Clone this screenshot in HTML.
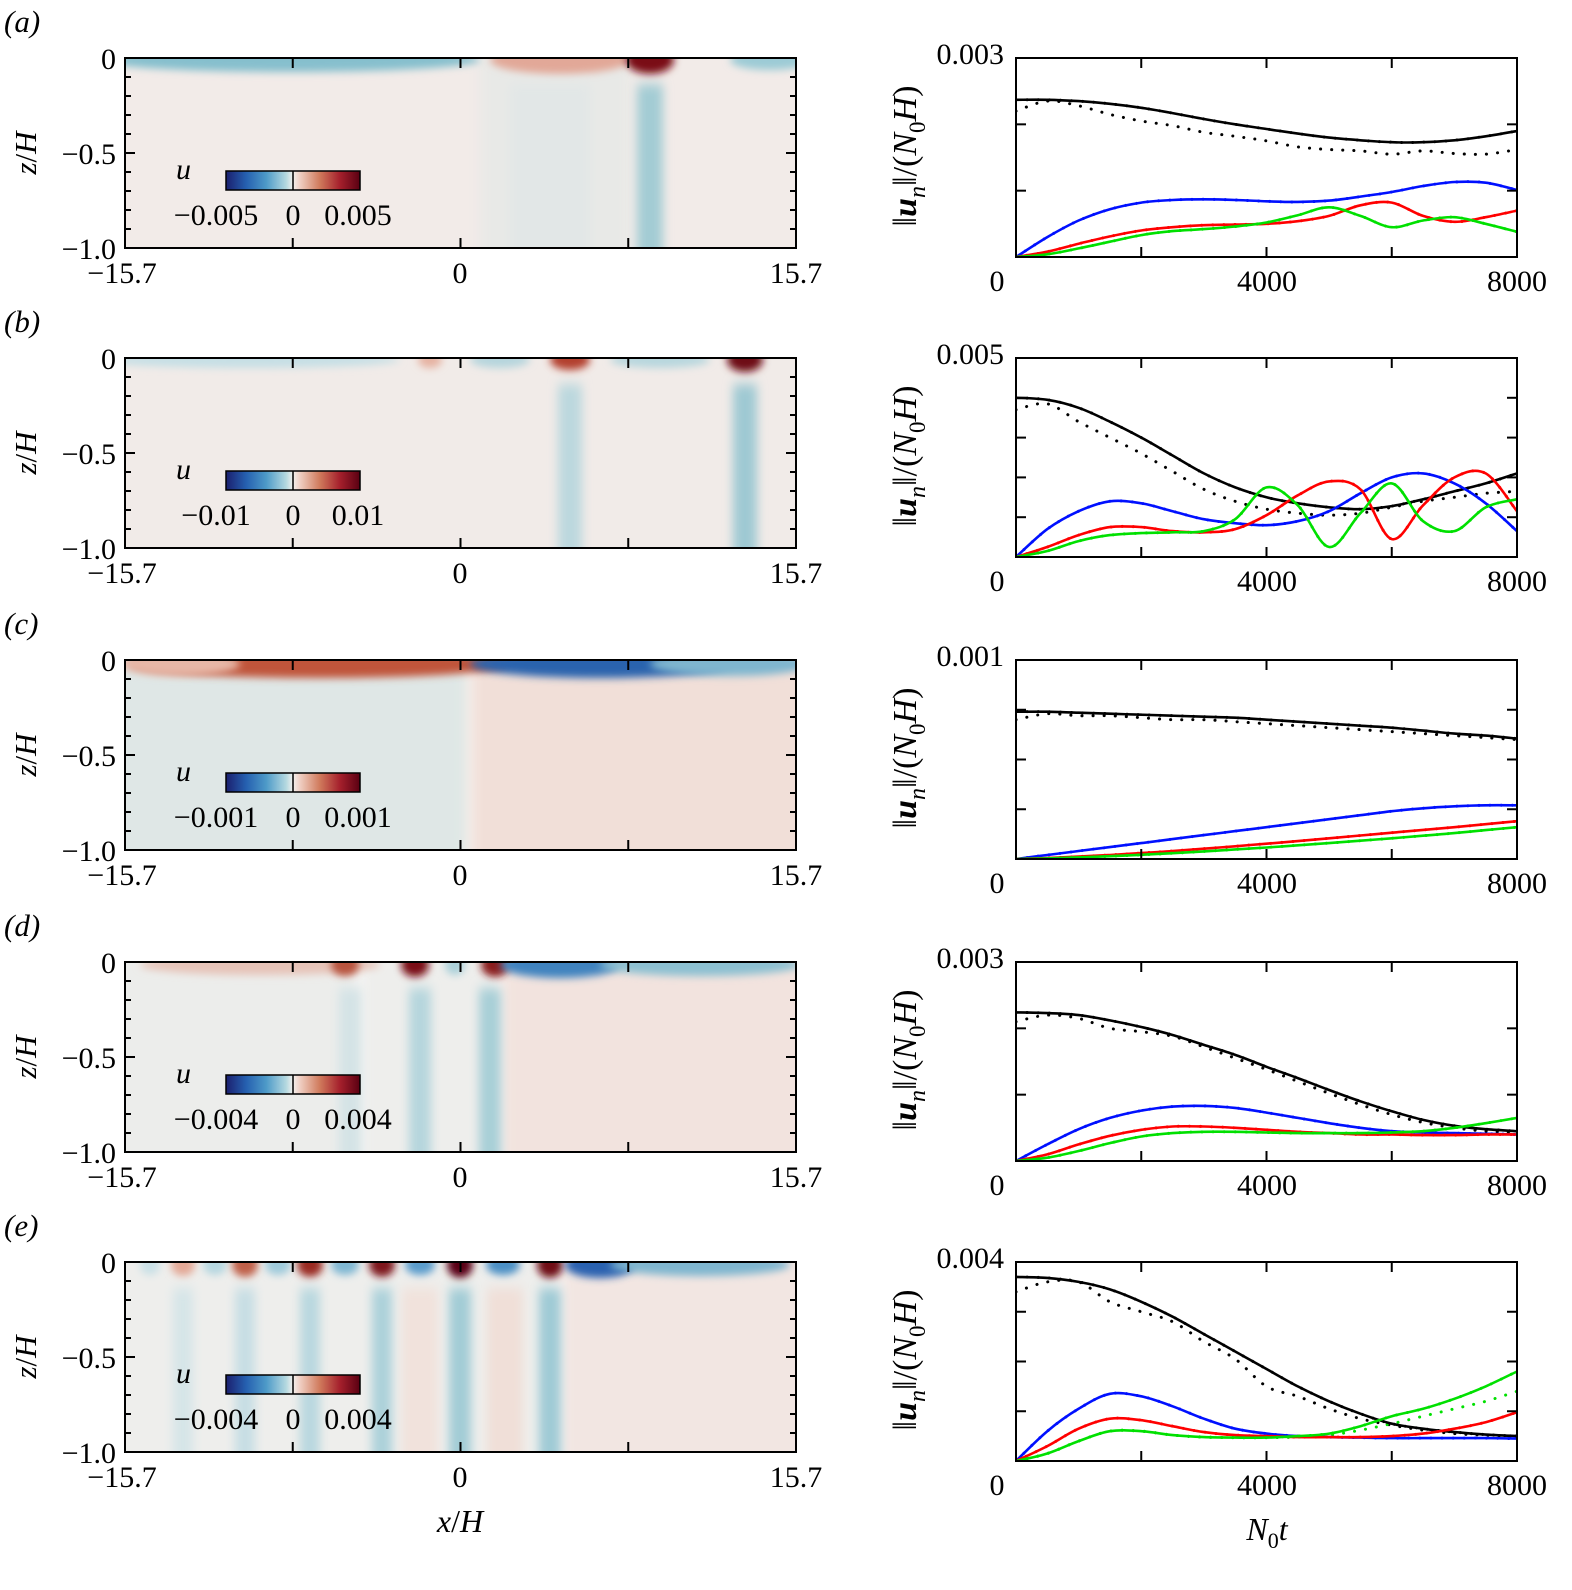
<!DOCTYPE html>
<html><head><meta charset="utf-8"><style>
html,body{margin:0;padding:0;background:#fff;}
svg{display:block;font-family:"Liberation Serif",serif;}
</style></head><body>
<svg id="fig" width="1572" height="1590" viewBox="0 0 1572 1590" xmlns="http://www.w3.org/2000/svg">
<defs>
<filter id="blur" x="-50%" y="-50%" width="200%" height="200%"><feGaussianBlur stdDeviation="7"/></filter>
<filter id="blur2" x="-50%" y="-50%" width="200%" height="200%"><feGaussianBlur stdDeviation="4"/></filter>
<filter id="blurx" x="-50%" y="-10%" width="200%" height="120%"><feGaussianBlur stdDeviation="5 6"/></filter>
<linearGradient id="cbar" x1="0" x2="1" y1="0" y2="0">
<stop offset="0" stop-color="#1b1f6e"/><stop offset="0.15" stop-color="#2560b0"/><stop offset="0.3" stop-color="#4d9ac8"/><stop offset="0.45" stop-color="#b5d9e0"/><stop offset="0.5" stop-color="#f2f0ee"/><stop offset="0.55" stop-color="#f0d0c4"/><stop offset="0.7" stop-color="#d07a5c"/><stop offset="0.85" stop-color="#a5202c"/><stop offset="1" stop-color="#5a0012"/>
</linearGradient>
</defs>
</svg>
<script>
// ---- chart data (time axis shared, values ×1e-3) ----
const times = [0,500,1000,1500,2000,2500,3000,3500,4000,4500,5000,5500,6000,6500,7000,7500,8000];
const panelLabels = ["a","b","c","d","e"];
const yMaxVals = [0.003,0.005,0.001,0.003,0.004];
const yMaxLabels = ["0.003","0.005","0.001","0.003","0.004"];
const yTickSteps = [0.001,0.001,0.00025,0.001,0.001];
const xTickLabels = ["0","4000","8000"];
const cbarLabels = [["−0.005","0","0.005"],["−0.01","0","0.01"],["−0.001","0","0.001"],["−0.004","0","0.004"],["−0.004","0","0.004"]];
const heatXLabels = ["−15.7","0","15.7"];
const heatYLabels = ["0","−0.5","−1.0"];

const blackA = [2.37,2.37,2.35,2.31,2.25,2.17,2.08,2.0,1.93,1.86,1.80,1.76,1.73,1.73,1.76,1.82,1.90];
const blueA  = [0,0.3,0.55,0.72,0.82,0.86,0.87,0.86,0.84,0.83,0.85,0.91,0.98,1.07,1.13,1.12,1.01];
const redA   = [0,0.08,0.2,0.31,0.4,0.45,0.48,0.49,0.5,0.54,0.62,0.78,0.82,0.62,0.53,0.6,0.7];
const greenA = [0,0.04,0.13,0.23,0.33,0.39,0.42,0.46,0.52,0.63,0.75,0.62,0.45,0.55,0.6,0.5,0.38];
const blackDotsA = [2.2,2.35,2.28,2.15,2.05,1.98,1.88,1.82,1.75,1.66,1.62,1.6,1.55,1.6,1.56,1.55,1.62];

const blackB = [4.0,3.95,3.75,3.4,3.0,2.55,2.1,1.75,1.5,1.35,1.25,1.2,1.28,1.45,1.65,1.85,2.1];
const blueB  = [0,0.7,1.15,1.4,1.35,1.15,0.95,0.85,0.8,0.9,1.15,1.6,2.0,2.1,1.85,1.35,0.65];
const redB   = [0,0.25,0.55,0.75,0.75,0.65,0.62,0.7,1.05,1.55,1.9,1.7,0.45,1.3,2.0,2.1,1.15];
const greenB = [0,0.15,0.4,0.55,0.6,0.62,0.65,0.95,1.75,1.3,0.25,1.1,1.85,0.9,0.65,1.25,1.45];
const blackDotsB = [3.7,3.85,3.4,3.0,2.6,2.15,1.7,1.4,1.2,1.1,1.05,1.1,1.25,1.4,1.5,1.6,1.65];

const blackC = [0.74,0.74,0.735,0.73,0.725,0.72,0.715,0.71,0.70,0.69,0.68,0.67,0.66,0.645,0.63,0.62,0.605];
const blueC  = [0,0.02,0.04,0.06,0.08,0.1,0.12,0.14,0.16,0.18,0.2,0.22,0.24,0.255,0.265,0.27,0.27];
const redC   = [0,0.005,0.012,0.02,0.03,0.04,0.052,0.064,0.077,0.09,0.104,0.118,0.132,0.146,0.16,0.175,0.19];
const greenC = [0,0.003,0.008,0.014,0.021,0.029,0.038,0.048,0.058,0.069,0.08,0.092,0.104,0.117,0.13,0.145,0.16];
const blackDotsC = [0.7,0.73,0.72,0.72,0.71,0.7,0.7,0.69,0.68,0.67,0.66,0.65,0.64,0.63,0.62,0.61,0.6];

const blackD = [2.24,2.23,2.2,2.12,2.02,1.9,1.75,1.6,1.42,1.25,1.07,0.9,0.75,0.62,0.53,0.48,0.45];
const blueD  = [0,0.25,0.48,0.65,0.76,0.82,0.83,0.8,0.73,0.65,0.57,0.5,0.45,0.43,0.42,0.41,0.40];
const redD   = [0,0.1,0.25,0.38,0.47,0.52,0.52,0.5,0.47,0.44,0.42,0.4,0.4,0.39,0.39,0.4,0.4];
const greenD = [0,0.05,0.15,0.27,0.37,0.42,0.44,0.44,0.43,0.42,0.42,0.42,0.43,0.45,0.5,0.57,0.65];
const blackDotsD = [2.1,2.2,2.15,2.0,1.95,1.88,1.72,1.55,1.38,1.2,1.02,0.85,0.7,0.58,0.5,0.45,0.43];

const blackE = [3.7,3.68,3.6,3.45,3.2,2.9,2.55,2.2,1.85,1.5,1.2,0.95,0.75,0.65,0.58,0.53,0.5];
const blueE  = [0,0.6,1.05,1.35,1.3,1.1,0.85,0.65,0.55,0.5,0.48,0.47,0.46,0.46,0.46,0.46,0.45];
const redE   = [0,0.3,0.65,0.85,0.82,0.7,0.58,0.52,0.5,0.48,0.48,0.48,0.5,0.55,0.65,0.78,0.98];
const greenE = [0,0.15,0.4,0.6,0.6,0.52,0.48,0.47,0.47,0.5,0.55,0.7,0.9,1.05,1.25,1.5,1.8];
const blackDotsE = [3.4,3.6,3.6,3.2,3.0,2.8,2.4,2.05,1.5,1.3,1.05,0.85,0.72,0.62,0.55,0.52,0.5];
const greenDotsE = [0,0.15,0.4,0.6,0.6,0.52,0.48,0.47,0.47,0.48,0.52,0.62,0.75,0.9,1.05,1.2,1.4];

const seriesSets = [
 {black:blackA,blue:blueA,red:redA,green:greenA,dots:blackDotsA},
 {black:blackB,blue:blueB,red:redB,green:greenB,dots:blackDotsB},
 {black:blackC,blue:blueC,red:redC,green:greenC,dots:blackDotsC},
 {black:blackD,blue:blueD,red:redD,green:greenD,dots:blackDotsD},
 {black:blackE,blue:blueE,red:redE,green:greenE,dots:blackDotsE,greenDots:greenDotsE}
];

const NS="http://www.w3.org/2000/svg";
const svg=document.getElementById('fig');
function mk(tag,attrs,parent,txt){const e=document.createElementNS(NS,tag);for(const k in attrs)e.setAttribute(k,attrs[k]);if(txt!==undefined)e.textContent=txt;(parent||svg).appendChild(e);return e;}
function curve(pts){let d=`M${pts[0][0]},${pts[0][1]}`;for(let i=0;i<pts.length-1;i++){const p0=pts[Math.max(0,i-1)],p1=pts[i],p2=pts[i+1],p3=pts[Math.min(pts.length-1,i+2)];const c1=[p1[0]+(p2[0]-p0[0])/6,p1[1]+(p2[1]-p0[1])/6],c2=[p2[0]-(p3[0]-p1[0])/6,p2[1]-(p3[1]-p1[1])/6];d+=` C${c1[0].toFixed(1)},${c1[1].toFixed(1)} ${c2[0].toFixed(1)},${c2[1].toFixed(1)} ${p2[0].toFixed(1)},${p2[1].toFixed(1)}`;}return d;}

const PT=[58,358,660,962,1262];
const HL=125,HR=796,HH=190;
const RL=1016,RR=1517,RH=199;

const heatBg=[
 [["#f2ebe8",100,820],["#e8e9e7",480,630]],
 [["#f1ebe8",100,820]],
 [["#dfe7e6",100,470],["#f1dfd8",470,820]],
 [["#ecedeb",100,360],["#eeeeec",360,500],["#f2e3de",500,820]],
 [["#eeeeec",100,560],["#f2e6e2",560,820]]
];
// [cx, cy, rx, ry, color]; ry>=80 => vertical stripe
const heatShapes=[
 [[290,2,190,12,"#86bfcd"],[770,2,40,10,"#9ccbd5"],[560,2,70,14,"#e2a898"],[650,2,24,14,"#7a0f18"],[650,110,13,85,"#a3ccd4"],[550,110,40,85,"#e2e7e7"]],
 [[250,2,150,8,"#c6dfe5"],[430,2,12,8,"#e6b2a2"],[500,2,30,8,"#b6d5dd"],[570,2,20,10,"#b3402f"],[660,2,50,8,"#b8d7de"],[745,2,18,12,"#6e0c15"],[570,110,12,85,"#bcd8de"],[745,110,12,85,"#9fc9d3"]],
 [[320,4,190,14,"#c0553b"],[180,4,60,12,"#e7b7a7"],[600,4,130,14,"#2a63ad"],[730,4,80,12,"#7fb6cf"]],
 [[260,3,120,10,"#e6c3b8"],[345,3,14,11,"#b7533c"],[415,3,14,12,"#7a0f18"],[455,3,10,10,"#aad0d9"],[495,3,14,12,"#8a1a1a"],[560,3,60,13,"#3f83bf"],[700,3,100,11,"#8cc0d1"],[350,110,11,85,"#d4e3e6"],[420,110,11,85,"#b6d6dd"],[490,110,11,85,"#a8cfd7"]],
 [[150,3,10,10,"#c9e0e6"],[183,3,12,11,"#e3a896"],[215,3,12,10,"#b6d7e0"],[245,3,13,12,"#c0604a"],[278,3,13,10,"#9fcadb"],[310,3,13,12,"#9a2a22"],[345,3,14,10,"#7fb7d3"],[382,3,13,12,"#7e121a"],[420,3,15,10,"#5a9ccc"],[460,3,13,13,"#5a0012"],[503,3,17,10,"#4b90c5"],[550,3,13,13,"#700b18"],[600,3,35,13,"#2b62b0"],[700,3,90,11,"#7fb6cf"],
  [183,110,10,85,"#d6e5e8"],[245,110,10,85,"#c7dee4"],[310,110,10,85,"#b9d8df"],[382,110,10,85,"#acd1da"],[460,110,11,85,"#a2ccd6"],[550,110,11,85,"#9fcad5"],[420,110,18,85,"#f1e2dc"],[505,110,18,85,"#f0dfd8"]]
];

for(let p=0;p<5;p++){
 const top=PT[p];
 const g=mk('g',{});
 
 
 const pl=mk('text',{x:4,y:top-26,'font-size':31,'font-style':'italic'},g,'('+panelLabels[p]+')');
 
 // ---- heatmap ----
 const hg=mk('g',{},g);
 
 
 const cid='clip'+p;
 const cp=mk('clipPath',{id:cid},hg);mk('rect',{x:HL,y:top,width:HR-HL,height:HH},cp);
 const inner=mk('g',{'clip-path':`url(#${cid})`},hg);
 heatBg[p].forEach(b=>mk('rect',{x:b[1],y:top-30,width:b[2]-b[1],height:HH+60,fill:b[0],filter:'url(#blur)'},inner));
 heatShapes[p].forEach(s=>{
  if(s[3]>=80) mk('rect',{x:s[0]-s[2],y:top+26,width:2*s[2],height:HH,fill:s[4],filter:'url(#blurx)'},inner);
  else mk('ellipse',{cx:s[0],cy:top+s[1],rx:s[2],ry:s[3],fill:s[4],filter:'url(#blur2)'},inner);
 });
 mk('rect',{x:HL,y:top,width:HR-HL,height:HH,fill:'none',stroke:'#000','stroke-width':2},hg);
 for(let i=0;i<=10;i++){const y=top+HH*i/10,len=(i%5==0)?10:6;mk('line',{x1:HL,x2:HL+len,y1:y,y2:y,stroke:'#000','stroke-width':2},hg);mk('line',{x1:HR,x2:HR-len,y1:y,y2:y,stroke:'#000','stroke-width':2},hg);}
 for(let i=1;i<4;i++){const x=HL+(HR-HL)*i/4;mk('line',{x1:x,x2:x,y1:top,y2:top+10,stroke:'#000','stroke-width':2},hg);mk('line',{x1:x,x2:x,y1:top+HH,y2:top+HH-10,stroke:'#000','stroke-width':2},hg);}
 heatYLabels.forEach((t,i)=>{const e=mk('text',{x:116,y:top+HH*i/2+11,'font-size':30,'text-anchor':'end'},g,t);});
 heatXLabels.forEach((t,i)=>{const e=mk('text',{x:[122,460,796][i],y:top+HH+35,'font-size':30,'text-anchor':'middle'},g,t);});
 const zl=mk('text',{x:0,y:0,'font-size':31,'text-anchor':'middle',transform:`translate(36,${top+95}) rotate(-90)`},g);
 
 mk('tspan',{'font-style':'italic'},zl,'z');mk('tspan',{},zl,'/');mk('tspan',{'font-style':'italic'},zl,'H');
 const cb=mk('g',{},g);
 mk('text',{x:176,y:top+121,'font-size':30,'font-style':'italic'},cb,'u');
 mk('rect',{x:226,y:top+113,width:134,height:19,fill:'url(#cbar)',stroke:'#000','stroke-width':1.5},cb);
 mk('line',{x1:293,x2:293,y1:top+113,y2:top+132,stroke:'#000','stroke-width':1.5},cb);
 cbarLabels[p].forEach((t,i)=>{const e=mk('text',{x:[216,293,358][i],y:top+167,'font-size':30,'text-anchor':'middle'},cb,t);});

 // ---- line chart ----
 const lg=mk('g',{},g);
 const ymax=yMaxVals[p];
 const xs=t=>RL+(RR-RL)*t/8000;
 const ys=v=>top+RH-RH*(v*1e-3)/ymax;
 const lcid='lclip'+p;const lcp=mk('clipPath',{id:lcid},lg);mk('rect',{x:RL,y:top,width:RR-RL,height:RH},lcp);
 const plot=mk('g',{'clip-path':`url(#${lcid})`},lg);
 const S=seriesSets[p];
 const drawDots=(arr,col,name)=>{const e=mk('path',{d:curve(arr.map((v,i)=>[xs(times[i]),ys(v)])),fill:'none',stroke:col,'stroke-width':3,'stroke-dasharray':'0.1 11','stroke-linecap':'round'},plot);};
 drawDots(S.dots,'#000','black-dotted-series');
 if(S.greenDots) drawDots(S.greenDots,'#00e000','green-dotted-series');
 [['black','#000'],['blue','#0010ff'],['red','#ff0000'],['green','#00e000']].forEach(([k,col])=>{
  const e=mk('path',{d:curve(S[k].map((v,i)=>[xs(times[i]),ys(v)])),fill:'none',stroke:col,'stroke-width':2.6},plot);
  
  drawDots(S[k],col,k+'-dotted-series');
 });
 mk('rect',{x:RL,y:top,width:RR-RL,height:RH,fill:'none',stroke:'#000','stroke-width':2},lg);
 for(let t=2000;t<8000;t+=2000){const x=xs(t);mk('line',{x1:x,x2:x,y1:top,y2:top+10,stroke:'#000','stroke-width':2},lg);mk('line',{x1:x,x2:x,y1:top+RH,y2:top+RH-10,stroke:'#000','stroke-width':2},lg);}
 const st=yTickSteps[p];for(let v=st;v<ymax-1e-9;v+=st){const y=ys(v*1e3);mk('line',{x1:RL,x2:RL+10,y1:y,y2:y,stroke:'#000','stroke-width':2},lg);mk('line',{x1:RR,x2:RR-10,y1:y,y2:y,stroke:'#000','stroke-width':2},lg);}
 xTickLabels.forEach((t,i)=>{const e=mk('text',{x:[997,1267,1517][i],y:top+RH+34,'font-size':30,'text-anchor':'middle'},lg,t);});
 const ym=mk('text',{x:1004,y:top+6,'font-size':30,'text-anchor':'end'},lg,yMaxLabels[p]);
 const yl=mk('text',{x:0,y:0,'font-size':34,'text-anchor':'middle',transform:`translate(916,${top+98}) rotate(-90)`},lg);
 
 mk('tspan',{},yl,'‖');mk('tspan',{'font-style':'italic','font-weight':'bold'},yl,'u');mk('tspan',{'font-style':'italic','font-size':24,dy:9},yl,'n');mk('tspan',{dy:-9},yl,'‖/(');mk('tspan',{'font-style':'italic'},yl,'N');mk('tspan',{'font-size':23,dy:9},yl,'0');mk('tspan',{'font-style':'italic',dy:-9},yl,'H');mk('tspan',{},yl,')');
}
const xt=mk('text',{x:460,y:1532,'font-size':32,'text-anchor':'middle'});
mk('tspan',{'font-style':'italic'},xt,'x');mk('tspan',{},xt,'/');mk('tspan',{'font-style':'italic'},xt,'H');
const tt=mk('text',{x:1267,y:1540,'font-size':32,'text-anchor':'middle'});
mk('tspan',{'font-style':'italic'},tt,'N');mk('tspan',{'font-size':22,dy:8},tt,'0');mk('tspan',{'font-style':'italic',dy:-8},tt,'t');
</script>
</body></html>
